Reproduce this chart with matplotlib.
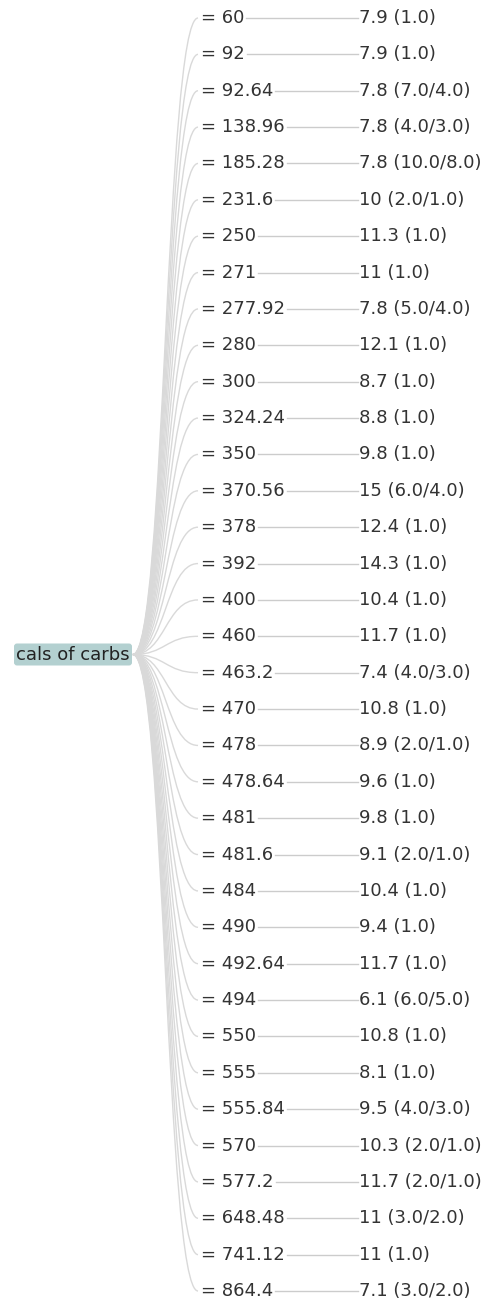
import matplotlib.pyplot as plt
from matplotlib.patches import FancyBboxPatch
from matplotlib.path import Path
from matplotlib.patches import PathPatch

# tree data: root attribute, split values and leaf predictions
root_label = 'cals of carbs'
split_values = ['60', '92', '92.64', '138.96', '185.28', '231.6', '250', '271',
                '277.92', '280', '300', '324.24', '350', '370.56', '378', '392',
                '400', '460', '463.2', '470', '478', '478.64', '481', '481.6',
                '484', '490', '492.64', '494', '550', '555', '555.84', '570',
                '577.2', '648.48', '741.12', '864.4']
leaf_preds = ['7.9', '7.9', '7.8', '7.8', '7.8', '10', '11.3', '11', '7.8', '12.1',
              '8.7', '8.8', '9.8', '15', '12.4', '14.3', '10.4', '11.7', '7.4',
              '10.8', '8.9', '9.6', '9.8', '9.1', '10.4', '9.4', '11.7', '6.1',
              '10.8', '8.1', '9.5', '10.3', '11.7', '11', '11', '7.1']
leaf_counts = ['1.0', '1.0', '7.0/4.0', '4.0/3.0', '10.0/8.0', '2.0/1.0', '1.0',
               '1.0', '5.0/4.0', '1.0', '1.0', '1.0', '1.0', '6.0/4.0', '1.0',
               '1.0', '1.0', '1.0', '4.0/3.0', '1.0', '2.0/1.0', '1.0', '1.0',
               '2.0/1.0', '1.0', '1.0', '1.0', '6.0/5.0', '1.0', '1.0', '4.0/3.0',
               '2.0/1.0', '2.0/1.0', '3.0/2.0', '1.0', '3.0/2.0']

W, H = 489, 1307
fig = plt.figure(figsize=(W / 100, H / 100), dpi=100)
ax = fig.add_axes([0, 0, 1, 1])
ax.set_xlim(0, W)
ax.set_ylim(H, 0)
ax.axis('off')

fs = 13
txt_color = '#333333'
link_color = '#d9d9d9'

n = len(split_values)
top, bottom = 18, 1291
step = (bottom - top) / (n - 1)
rows = [top + i * step for i in range(n)]
root_x, root_y = 133, (rows[0] + rows[-1]) / 2
child_x, leaf_x = 198, 358

# root box
box = FancyBboxPatch((14, root_y - 11), 118, 22,
                     boxstyle='round,pad=0,rounding_size=3',
                     facecolor='#b3d0d0', edgecolor='none', zorder=2)
ax.add_patch(box)
ax.text(73, root_y, root_label, fontsize=fs, color='#222222',
        ha='center', va='center', zorder=3)

# curved links root -> split nodes
mx = (root_x + child_x) / 2
for y in rows:
    verts = [(root_x, root_y), (mx, root_y), (mx, y), (child_x, y)]
    codes = [Path.MOVETO, Path.CURVE4, Path.CURVE4, Path.CURVE4]
    ax.add_patch(PathPatch(Path(verts, codes), facecolor='none',
                           edgecolor=link_color, lw=1.0, zorder=1))

fig.canvas.draw()
renderer = fig.canvas.get_renderer()
inv = ax.transData.inverted()

for y, sv, pred, cnt in zip(rows, split_values, leaf_preds, leaf_counts):
    t = ax.text(child_x + 3, y, '= ' + sv, fontsize=fs, color=txt_color,
                ha='left', va='center', zorder=3)
    ax.text(leaf_x + 1, y, f'{pred} ({cnt})', fontsize=fs, color=txt_color,
            ha='left', va='center', zorder=3)
    bb = t.get_window_extent(renderer)
    x_end = inv.transform((bb.x1, bb.y0))[0]
    ax.plot([x_end + 2, leaf_x], [y, y], color='#cccccc', lw=1.0, zorder=1)

fig.savefig('out.png', dpi=100)
